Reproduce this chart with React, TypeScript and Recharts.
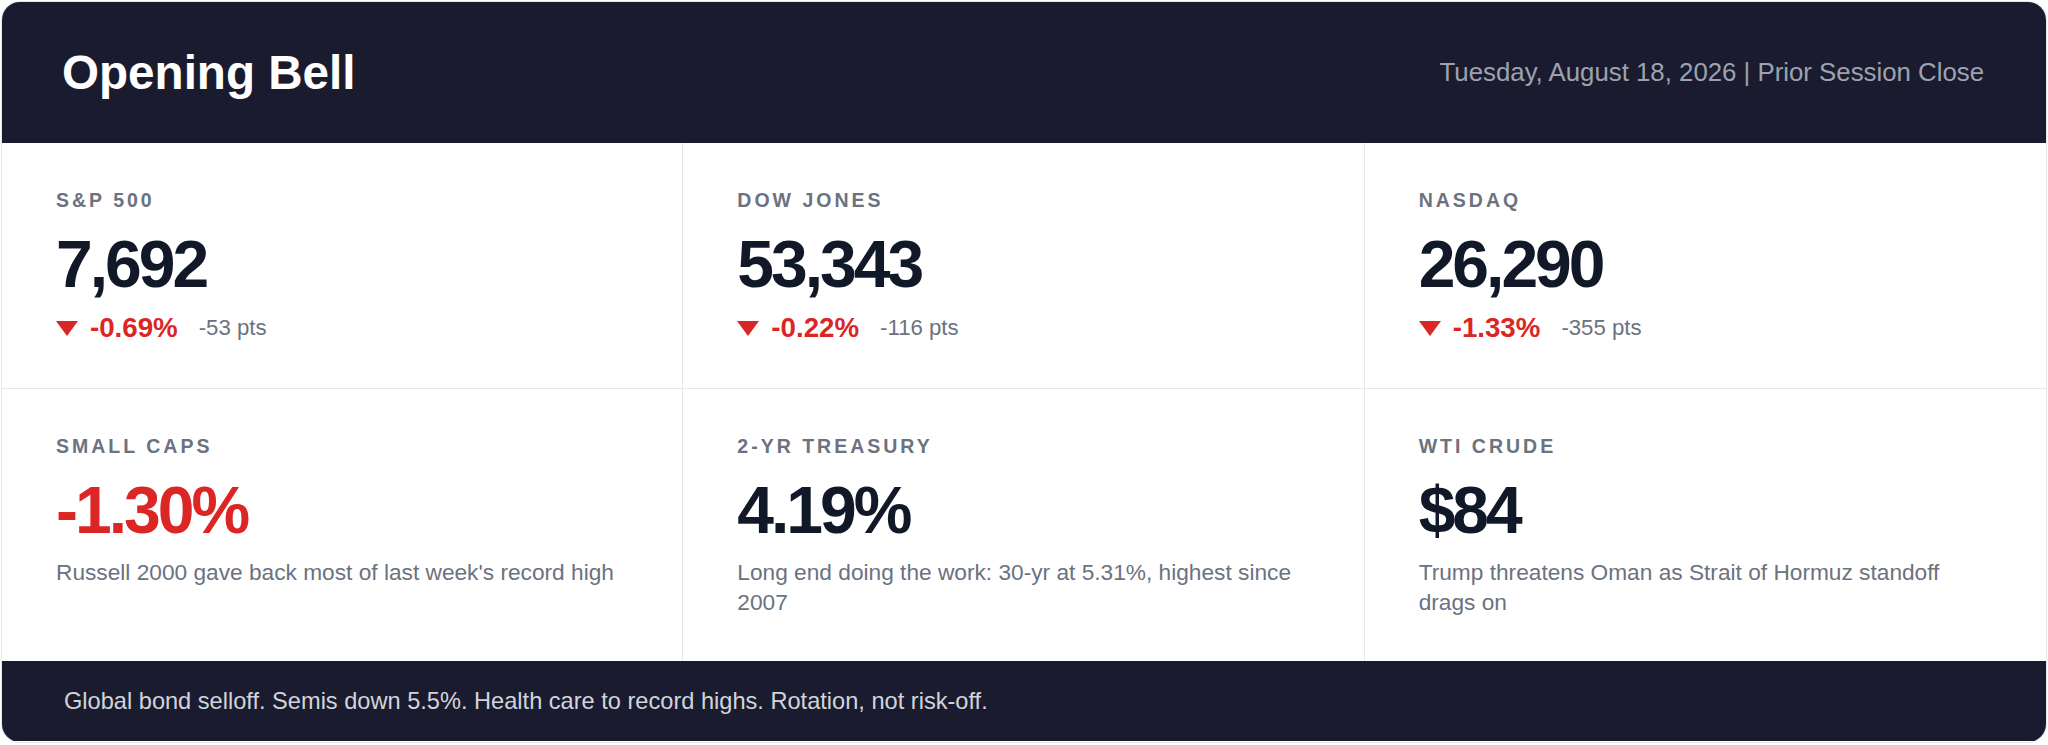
import React from "react";
import { Surface, Trapezoid } from "recharts";

// index tiles (top row)
const indexNames = ["S&P 500", "DOW JONES", "NASDAQ"];
const indexLevels = [7692, 53343, 26290];
const indexPctChanges = [-0.69, -0.22, -1.33];
const indexPtChanges = [-53, -116, -355];

// macro tiles (bottom row)
const macroNames = ["SMALL CAPS", "2-YR TREASURY", "WTI CRUDE"];
const macroValues = ["-1.30%", "4.19%", "$84"];
const macroNegative = [true, false, false];
const macroNotes = [
  "Russell 2000 gave back most of last week's record high",
  "Long end doing the work: 30-yr at 5.31%, highest since 2007",
  "Trump threatens Oman as Strait of Hormuz standoff drags on",
];

const headerTitle = "Opening Bell";
const headerDate = "Tuesday, August 18, 2026 | Prior Session Close";
const footerText =
  "Global bond selloff. Semis down 5.5%. Health care to record highs. Rotation, not risk-off.";

const NAVY = "#1b1b2f";
const RED = "#dc2626";
const INK = "#111827";
const MUTED = "#6b7280";
const RULE = "#e5e7eb";
const FONT = '"Liberation Sans", Arial, Helvetica, sans-serif';

function DownMarker() {
  // upper edge wide, lower edge zero = down-pointing triangle
  return (
    <Surface width={22} height={15} style={{ display: "block" }}>
      <Trapezoid
        x={0}
        y={0}
        upperWidth={22}
        lowerWidth={0}
        height={15}
        fill={RED}
        isAnimationActive={false}
      />
    </Surface>
  );
}

const labelStyle: React.CSSProperties = {
  fontSize: 19.5,
  lineHeight: "22px",
  fontWeight: 700,
  letterSpacing: 3,
  color: MUTED,
};

const bigStyle: React.CSSProperties = {
  fontSize: 66,
  lineHeight: "66px",
  fontWeight: 700,
  letterSpacing: -3,
  marginTop: 20,
};

function Cell({ children, last, bottom }: { children: React.ReactNode; last?: boolean; bottom?: boolean }) {
  return (
    <div
      style={{
        boxSizing: "border-box",
        padding: "46px 54px 0 54px",
        borderRight: last ? "none" : `1px solid ${RULE}`,
        borderBottom: bottom ? `1px solid ${RULE}` : "none",
      }}
    >
      {children}
    </div>
  );
}

export default function App() {
  return (
    <div style={{ position: "absolute", left: 0, top: 0, width: 2048, height: 745, background: "#fff", fontFamily: FONT }}>
      <style>{`body{margin:0}`}</style>
      <div
        style={{
          position: "absolute",
          left: 1,
          top: 1,
          width: 2046,
          height: 742,
          boxSizing: "border-box",
          border: `1px solid ${RULE}`,
          borderRadius: 19,
          overflow: "hidden",
          display: "grid",
          gridTemplateRows: "141px 246px 272px 80px",
        }}
      >
        <div
          style={{
            background: NAVY,
            display: "flex",
            alignItems: "center",
            justifyContent: "space-between",
            padding: "0 62px 0 60px",
          }}
        >
          <span style={{ color: "#fff", fontSize: 47.6, fontWeight: 700 }}>{headerTitle}</span>
          <span style={{ color: "#9ca3af", fontSize: 25.8 }}>{headerDate}</span>
        </div>

        <div style={{ display: "grid", gridTemplateColumns: "repeat(3, 1fr)" }}>
          {indexNames.map((name, i) => (
            <Cell key={name} last={i === 2} bottom>
              <div style={labelStyle}>{name}</div>
              <div style={{ ...bigStyle, color: INK }}>{indexLevels[i].toLocaleString("en-US")}</div>
              <div style={{ display: "flex", alignItems: "center", marginTop: 16, height: 30 }}>
                <DownMarker />
                <span style={{ marginLeft: 12, color: RED, fontWeight: 700, fontSize: 27.7 }}>
                  {indexPctChanges[i].toFixed(2)}%
                </span>
                <span style={{ marginLeft: 21, color: MUTED, fontSize: 22.2 }}>{indexPtChanges[i]} pts</span>
              </div>
            </Cell>
          ))}
        </div>

        <div style={{ display: "grid", gridTemplateColumns: "repeat(3, 1fr)" }}>
          {macroNames.map((name, i) => (
            <Cell key={name} last={i === 2}>
              <div style={labelStyle}>{name}</div>
              <div style={{ ...bigStyle, color: macroNegative[i] ? RED : INK }}>{macroValues[i]}</div>
              <div style={{ marginTop: 14, color: MUTED, fontSize: 22.7, lineHeight: "30px" }}>{macroNotes[i]}</div>
            </Cell>
          ))}
        </div>

        <div
          style={{
            background: NAVY,
            display: "flex",
            alignItems: "center",
            padding: "0 62px",
            color: "#d1d5db",
            fontSize: 23.6,
          }}
        >
          {footerText}
        </div>
      </div>
    </div>
  );
}
